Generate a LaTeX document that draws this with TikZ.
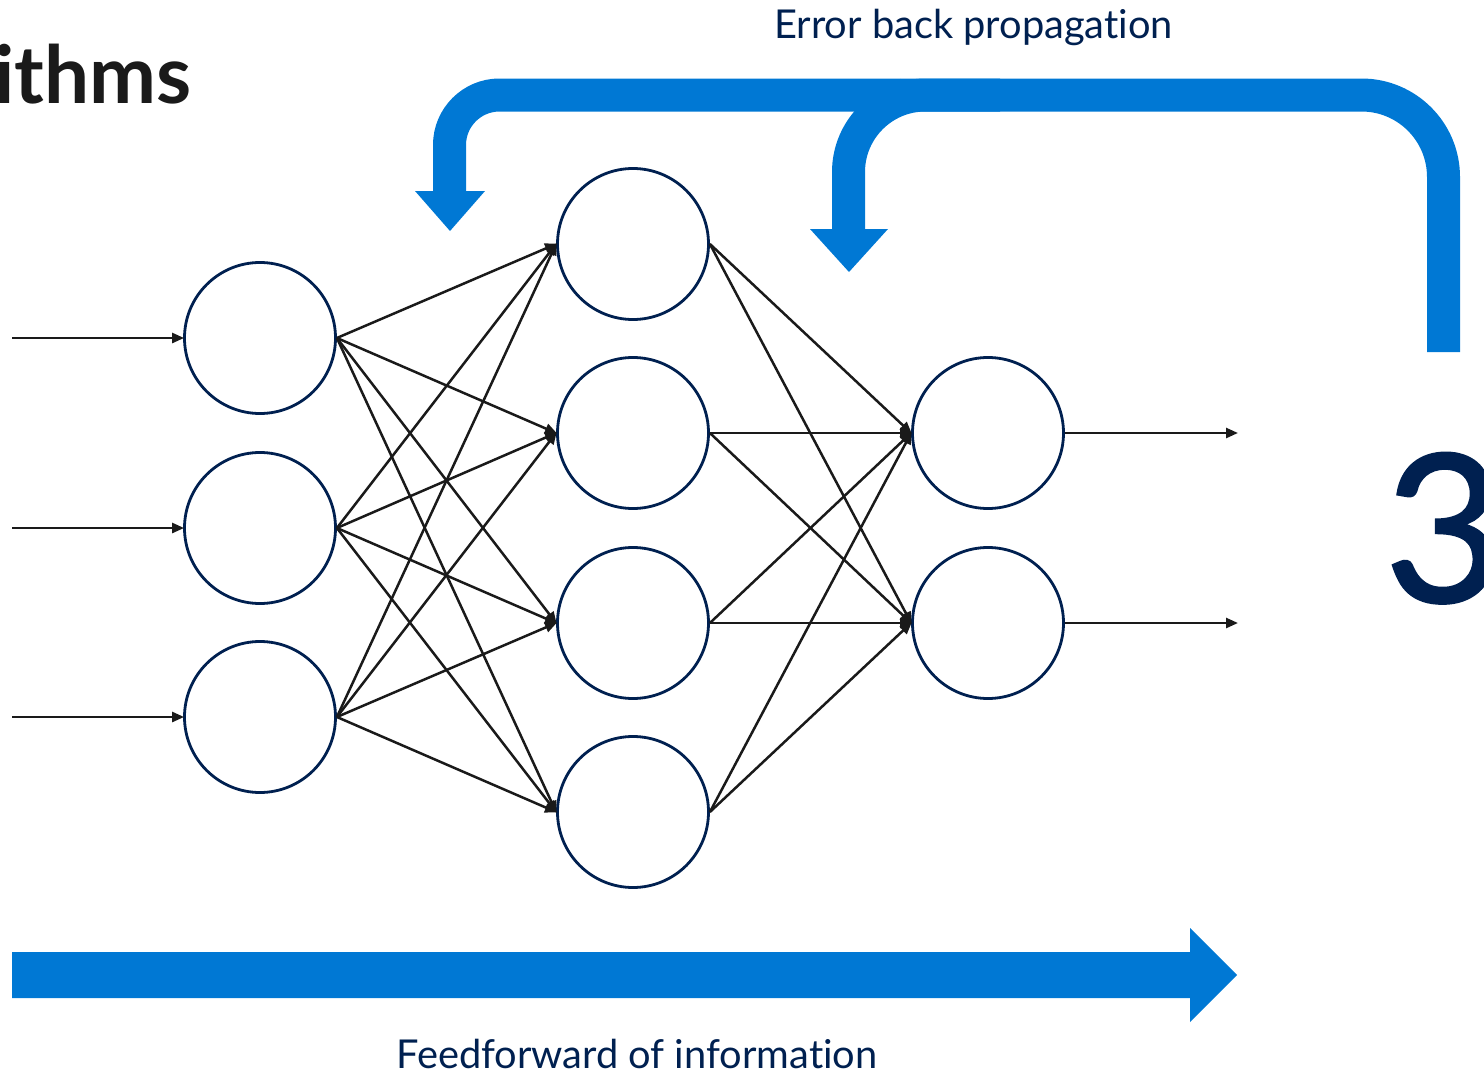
\documentclass[tikz,border=0pt]{standalone}
\usepackage{fontspec}
\setmainfont{Lato}[Ligatures={NoCommon}]
\newfontfamily\threefont{Lato}[FakeBold=1.2]
\usetikzlibrary{arrows.meta}
\definecolor{navy}{HTML}{002050}
\definecolor{msblue}{HTML}{0078D4}
\definecolor{ink}{HTML}{1A1A1A}
\tikzset{
  neuron/.style={circle, draw=navy, line width=2.8pt, minimum size=151pt, inner sep=0pt, fill=white},
  link/.style={draw=ink, line width=2.5pt, -{Triangle[length=12pt,width=10pt]}, shorten >=-1pt},
  bigflow/.style={draw=msblue, line width=33pt, line cap=butt},
  lbl/.style={text=navy, font=\fontsize{39.8}{44}\selectfont, inner sep=0pt, anchor=base west}
}
\begin{document}
\begin{tikzpicture}[x=1pt,y=-1pt]
\useasboundingbox (0,0) rectangle (1484,1076);
% title fragment
\node[text=ink, font=\fontsize{80}{90}\selectfont\bfseries, inner sep=0pt, anchor=base west] (ttl) at (-6,103) {ithms};
\node[text=navy, font=\threefont\fontsize{206}{230}\selectfont, inner sep=0pt, anchor=base west] (three) at (1384,602) {3};
% texts
\node[lbl] (ebp) at (774,38) {Error back propagation};
\node[lbl] (ffi) at (396,1068) {Feedforward of information};
% neurons
\node[neuron] (i1) at (260,338) {};
\node[neuron] (i2) at (260,528) {};
\node[neuron] (i3) at (260,717) {};
\node[neuron] (h1) at (633,244) {};
\node[neuron] (h2) at (633,433) {};
\node[neuron] (h3) at (633,623) {};
\node[neuron] (h4) at (633,812) {};
\node[neuron] (o1) at (988,433) {};
\node[neuron] (o2) at (988,623) {};
% free ends
\coordinate (in1) at (12,338);
\coordinate (in2) at (12,528);
\coordinate (in3) at (12,717);
\coordinate (out1) at (1237,433);
\coordinate (out2) at (1237,623);
% connectors
\foreach \a in {1,2,3}{\draw[link] (in\a) -- (i\a.west);}
\foreach \a in {1,2,3}{\foreach \b in {1,2,3,4}{\draw[link] (i\a.east) -- (h\b.west);}}
\foreach \a in {1,2,3,4}{\foreach \b in {1,2}{\draw[link] (h\a.east) -- (o\b.west);}}
\draw[link] (o1.east) -- (out1);
\draw[link] (o2.east) -- (out2);
% feedforward arrow
\coordinate (ffs) at (12,975);
\coordinate (fft) at (1237,975);
\fill[msblue] (ffs) ++(0,-23) -- ++(1178,0) -- ++(0,-24) -- (fft) -- (1190,1022) -- (1190,998) -- (12,998) -- cycle;
% error back propagation
\coordinate (bpR) at (1443.5,352);
\coordinate (bpM) at (900,95);
\coordinate (bpL) at (449.5,192);
\coordinate (bpB) at (848.5,230);
\draw[bigflow, rounded corners=82pt] (bpR) |- (bpM);
\draw[bigflow, rounded corners=50pt] (bpM) -| (bpL);
\draw[bigflow, rounded corners=77pt] (1000,95) -| (bpB);
\fill[msblue] (415,191) -- (485,191) -- (450,231) -- cycle;
\fill[msblue] (810,229) -- (888,229) -- (849,272) -- cycle;
\end{tikzpicture}
\end{document}
